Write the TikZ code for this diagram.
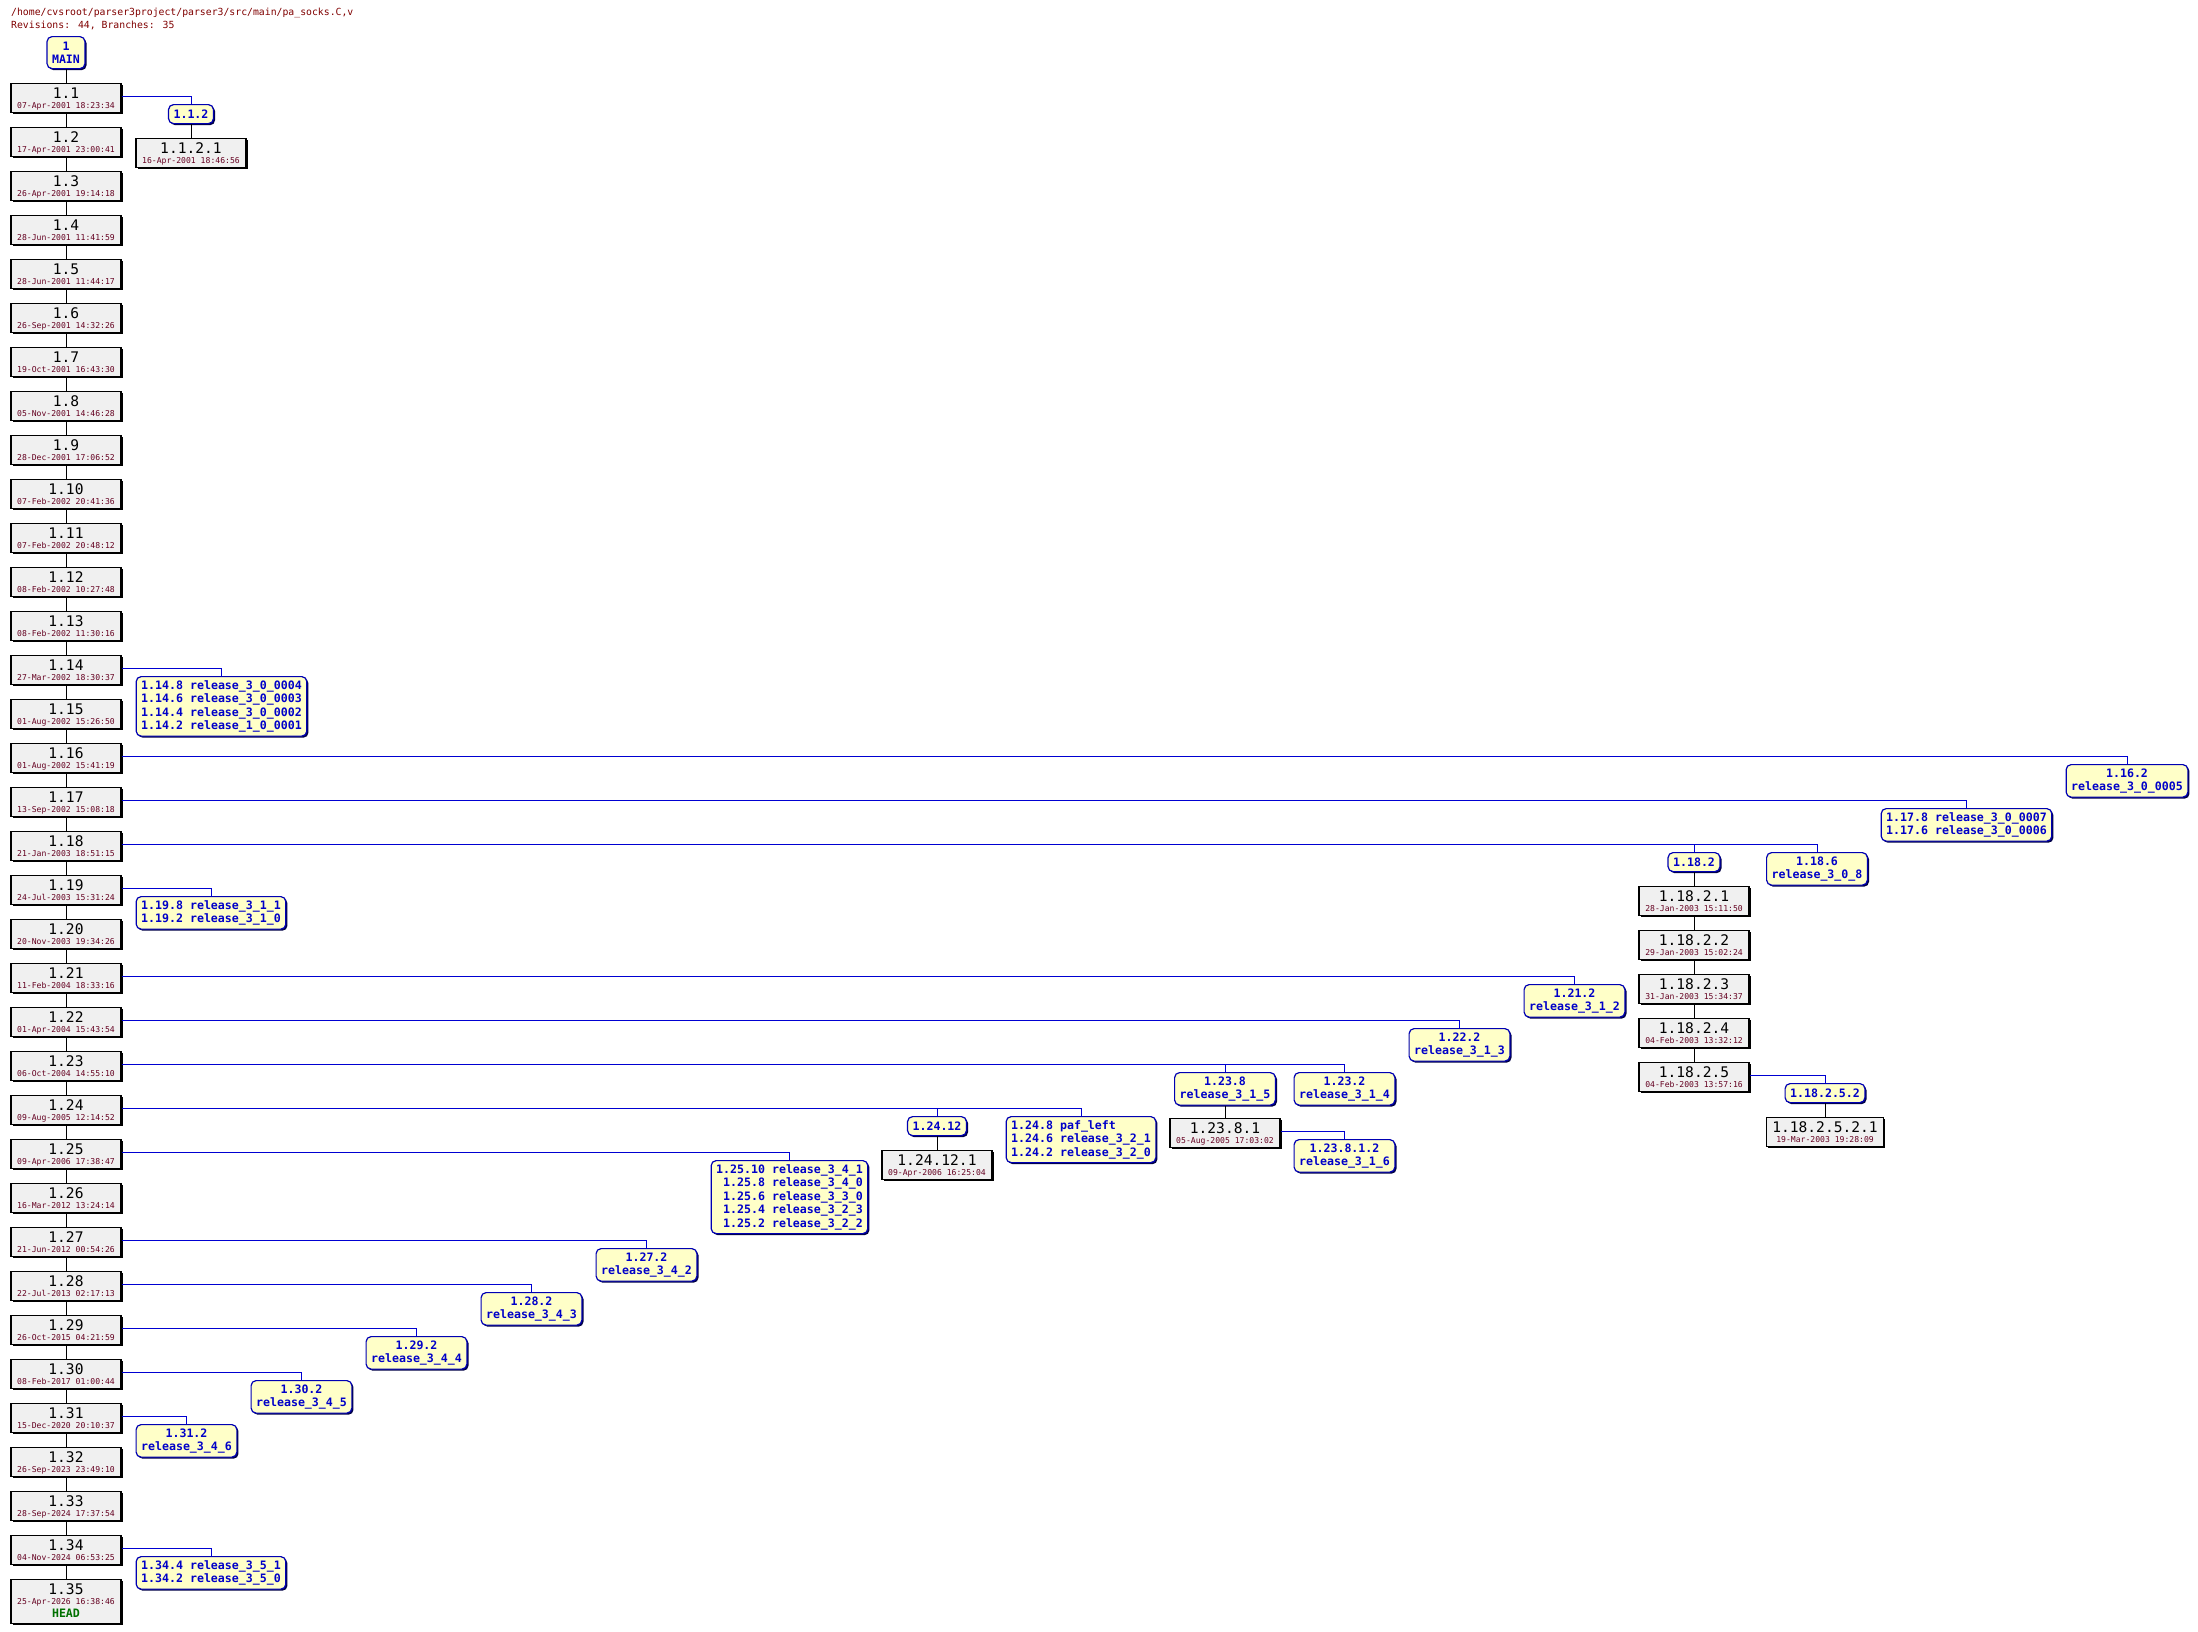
\documentclass[tikz,border=0pt]{standalone}
\usepackage{fontspec}
\usetikzlibrary{shadows}
\newfontfamily\monof{DejaVu Sans Mono}
\newcommand\revfont{\monof\fontsize{14.6}{16}\selectfont}
\newcommand\datefont{\monof\fontsize{8.1}{9.5}\selectfont}
\newcommand\tagfont{\monof\bfseries\fontsize{11.6}{13.5}\selectfont}
\newcommand\titlefont{\monof\fontsize{9.8}{12.5}\selectfont}
\definecolor{titlecol}{RGB}{128,0,0}
\definecolor{datecol}{RGB}{100,0,32}
\definecolor{revgray}{RGB}{240,240,240}
\definecolor{tagfill}{RGB}{255,255,200}
\definecolor{tagline}{RGB}{0,0,180}
\definecolor{tagtext}{RGB}{0,0,200}
\definecolor{branchcol}{RGB}{0,0,210}
\definecolor{headcol}{RGB}{0,112,0}
\definecolor{shadowblue}{RGB}{0,0,70}
\newcommand\rv[2]{\vbox{\lineskiplimit=-100pt\baselineskip=9.5pt\halign{\hfil##\hfil\cr{\revfont\rule{0pt}{13pt}#1}\cr{\datefont\color{datecol}\rule[-2.5pt]{0pt}{2.5pt}#2}\cr}}}
\newcommand\rvh[3]{\vbox{\lineskiplimit=-100pt\baselineskip=9.5pt\halign{\hfil##\hfil\cr{\revfont\rule{0pt}{13pt}#1}\cr{\datefont\color{datecol}#2}\cr\noalign{\kern3.5pt}{\tagfont\color{headcol}\rule[-4.5pt]{0pt}{4.5pt}#3}\cr}}}
\begin{document}
\begin{tikzpicture}[x=1pt,y=-1pt,
  rev/.style={draw=black,line width=1.2pt,fill=revgray,inner xsep=6pt,inner ysep=0pt,
    minimum width=110pt,minimum height=29pt,anchor=north,
    drop shadow={opacity=1,fill=black,shadow xshift=1.6pt,shadow yshift=-1.6pt}},
  tagbox/.style={draw=tagline,line width=1.2pt,fill=tagfill,rounded corners=5pt,
    text=tagtext,font=\tagfont,inner xsep=5pt,inner ysep=0pt,anchor=north,align=center,
    drop shadow={opacity=1,fill=shadowblue,shadow xshift=1.6pt,shadow yshift=-1.6pt}},
  lone/.style={minimum height=19pt},
  ltwo/.style={minimum height=32.5pt},
  lthree/.style={minimum height=46pt},
  lfour/.style={minimum height=59.5pt},
  lfive/.style={minimum height=73pt},
  trunk/.style={draw=black,line width=1pt},
  branch/.style={draw=branchcol,line width=1pt},
  titletext/.style={anchor=base west,font=\titlefont,text=titlecol,inner sep=0pt}]
\fill[white] (0,0) rectangle (2198,1631);
\useasboundingbox (0,0) rectangle (2198,1631);
% title
\node[titletext] (title1) at (11,15.5) {/home/cvsroot/parser3project/parser3/src/main/pa\_socks.C,v};
\node[titletext] (title2) at (11,28) {Revisions: 44, Branches: 35};
% MAIN tag
\node[tagbox,ltwo,minimum height=32pt] (t1) at (66,36) {1\\MAIN};
% trunk revisions
\foreach \k/\d in {1/07-Apr-2001 18:23:34,2/17-Apr-2001 23:00:41,3/26-Apr-2001 19:14:18,
  4/28-Jun-2001 11:41:59,5/28-Jun-2001 11:44:17,6/26-Sep-2001 14:32:26,7/19-Oct-2001 16:43:30,
  8/05-Nov-2001 14:46:28,9/28-Dec-2001 17:06:52,10/07-Feb-2002 20:41:36,11/07-Feb-2002 20:48:12,
  12/08-Feb-2002 10:27:48,13/08-Feb-2002 11:30:16,14/27-Mar-2002 18:30:37,15/01-Aug-2002 15:26:50,
  16/01-Aug-2002 15:41:19,17/13-Sep-2002 15:08:18,18/21-Jan-2003 18:51:15,19/24-Jul-2003 15:31:24,
  20/20-Nov-2003 19:34:26,21/11-Feb-2004 18:33:16,22/01-Apr-2004 15:43:54,23/06-Oct-2004 14:55:10,
  24/09-Aug-2005 12:14:52,25/09-Apr-2006 17:38:47,26/16-Mar-2012 13:24:14,27/21-Jun-2012 00:54:26,
  28/22-Jul-2013 02:17:13,29/26-Oct-2015 04:21:59,30/08-Feb-2017 01:00:44,31/15-Dec-2020 20:10:37,
  32/26-Sep-2023 23:49:10,33/28-Sep-2024 17:37:54,34/04-Nov-2024 06:53:25}{
  \node[rev] (r\k) at (66,{83+44*(\k-1)}) {\rv{1.\k}{\d}};
}
\node[rev,minimum height=44pt] (r35) at (66,1579) {\rvh{1.35}{25-Apr-2026 16:38:46}{HEAD}};
% trunk lines
\draw[trunk] (t1.south) -- (r1.north);
\foreach \k [evaluate=\k as \n using int(\k+1)] in {1,...,34}{
  \draw[trunk] (r\k.south) -- (r\n.north);
}
% branch 1.1.2
\node[tagbox,lone] (t112) at (191,104) {1.1.2};
\node[rev] (b1121) at (191,138) {\rv{1.1.2.1}{16-Apr-2001 18:46:56}};
\draw[branch] ([yshift=1.5pt]r1.east) -| (t112.north);
\draw[trunk] (t112.south) -- (b1121.north);
% 1.14
\node[tagbox,lfour,align=left] (t114) at (221.5,676) {1.14.8 release\_3\_0\_0004\\1.14.6 release\_3\_0\_0003\\1.14.4 release\_3\_0\_0002\\1.14.2 release\_1\_0\_0001};
\draw[branch] ([yshift=1.5pt]r14.east) -| (t114.north);
% 1.16
\node[tagbox,ltwo] (t116) at (2127,764) {1.16.2\\release\_3\_0\_0005};
\draw[branch] ([yshift=1.5pt]r16.east) -| (t116.north);
% 1.17
\node[tagbox,ltwo,align=left] (t117) at (1966.5,808) {1.17.8 release\_3\_0\_0007\\1.17.6 release\_3\_0\_0006};
\draw[branch] ([yshift=1.5pt]r17.east) -| (t117.north);
% 1.18
\node[tagbox,lone] (t1182) at (1694,852) {1.18.2};
\node[tagbox,ltwo] (t1186) at (1817,852) {1.18.6\\release\_3\_0\_8};
\draw[branch] ([yshift=1.5pt]r18.east) -| (t1182.north);
\draw[branch] ([yshift=1.5pt]r18.east) -| (t1186.north);
\node[rev] (b11821) at (1694,886) {\rv{1.18.2.1}{28-Jan-2003 15:11:50}};
\node[rev] (b11822) at (1694,930) {\rv{1.18.2.2}{29-Jan-2003 15:02:24}};
\node[rev] (b11823) at (1694,974) {\rv{1.18.2.3}{31-Jan-2003 15:34:37}};
\node[rev] (b11824) at (1694,1018) {\rv{1.18.2.4}{04-Feb-2003 13:32:12}};
\node[rev] (b11825) at (1694,1062) {\rv{1.18.2.5}{04-Feb-2003 13:57:16}};
\draw[trunk] (t1182.south) -- (b11821.north);
\draw[trunk] (b11821.south) -- (b11822.north);
\draw[trunk] (b11822.south) -- (b11823.north);
\draw[trunk] (b11823.south) -- (b11824.north);
\draw[trunk] (b11824.south) -- (b11825.north);
\node[tagbox,lone] (t118252) at (1825,1083) {1.18.2.5.2};
\node[rev] (b1182521) at (1825,1117) {\rv{1.18.2.5.2.1}{19-Mar-2003 19:28:09}};
\draw[branch] ([yshift=1.5pt]b11825.east) -| (t118252.north);
\draw[trunk] (t118252.south) -- (b1182521.north);
% 1.19
\node[tagbox,ltwo,align=left] (t119) at (211,896) {1.19.8 release\_3\_1\_1\\1.19.2 release\_3\_1\_0};
\draw[branch] ([yshift=1.5pt]r19.east) -| (t119.north);
% 1.21
\node[tagbox,ltwo] (t121) at (1574.5,984) {1.21.2\\release\_3\_1\_2};
\draw[branch] ([yshift=1.5pt]r21.east) -| (t121.north);
% 1.22
\node[tagbox,ltwo] (t122) at (1459.5,1028) {1.22.2\\release\_3\_1\_3};
\draw[branch] ([yshift=1.5pt]r22.east) -| (t122.north);
% 1.23
\node[tagbox,ltwo] (t1238) at (1225,1072) {1.23.8\\release\_3\_1\_5};
\node[tagbox,ltwo] (t1232) at (1344.5,1072) {1.23.2\\release\_3\_1\_4};
\draw[branch] ([yshift=1.5pt]r23.east) -| (t1238.north);
\draw[branch] ([yshift=1.5pt]r23.east) -| (t1232.north);
\node[rev] (b12381) at (1225,1118) {\rv{1.23.8.1}{05-Aug-2005 17:03:02}};
\draw[trunk] (t1238.south) -- (b12381.north);
\node[tagbox,ltwo] (t123812) at (1344.5,1139) {1.23.8.1.2\\release\_3\_1\_6};
\draw[branch] ([yshift=1.5pt]b12381.east) -| (t123812.north);
% 1.24
\node[tagbox,lone] (t12412) at (937,1116) {1.24.12};
\node[tagbox,lthree,align=left] (t1248) at (1081,1116) {1.24.8 paf\_left\\1.24.6 release\_3\_2\_1\\1.24.2 release\_3\_2\_0};
\draw[branch] ([yshift=1.5pt]r24.east) -| (t12412.north);
\draw[branch] ([yshift=1.5pt]r24.east) -| (t1248.north);
\node[rev] (b124121) at (937,1150) {\rv{1.24.12.1}{09-Apr-2006 16:25:04}};
\draw[trunk] (t12412.south) -- (b124121.north);
% 1.25
\node[tagbox,lfive,align=right] (t125) at (789.5,1160) {1.25.10 release\_3\_4\_1\\1.25.8 release\_3\_4\_0\\1.25.6 release\_3\_3\_0\\1.25.4 release\_3\_2\_3\\1.25.2 release\_3\_2\_2};
\draw[branch] ([yshift=1.5pt]r25.east) -| (t125.north);
% 1.27 - 1.31
\node[tagbox,ltwo] (t127) at (646.5,1248) {1.27.2\\release\_3\_4\_2};
\draw[branch] ([yshift=1.5pt]r27.east) -| (t127.north);
\node[tagbox,ltwo] (t128) at (531.5,1292) {1.28.2\\release\_3\_4\_3};
\draw[branch] ([yshift=1.5pt]r28.east) -| (t128.north);
\node[tagbox,ltwo] (t129) at (416.5,1336) {1.29.2\\release\_3\_4\_4};
\draw[branch] ([yshift=1.5pt]r29.east) -| (t129.north);
\node[tagbox,ltwo] (t130) at (301.5,1380) {1.30.2\\release\_3\_4\_5};
\draw[branch] ([yshift=1.5pt]r30.east) -| (t130.north);
\node[tagbox,ltwo] (t131) at (186.5,1424) {1.31.2\\release\_3\_4\_6};
\draw[branch] ([yshift=1.5pt]r31.east) -| (t131.north);
% 1.34
\node[tagbox,ltwo,align=left] (t134) at (211,1556) {1.34.4 release\_3\_5\_1\\1.34.2 release\_3\_5\_0};
\draw[branch] ([yshift=1.5pt]r34.east) -| (t134.north);
\end{tikzpicture}
\end{document}
